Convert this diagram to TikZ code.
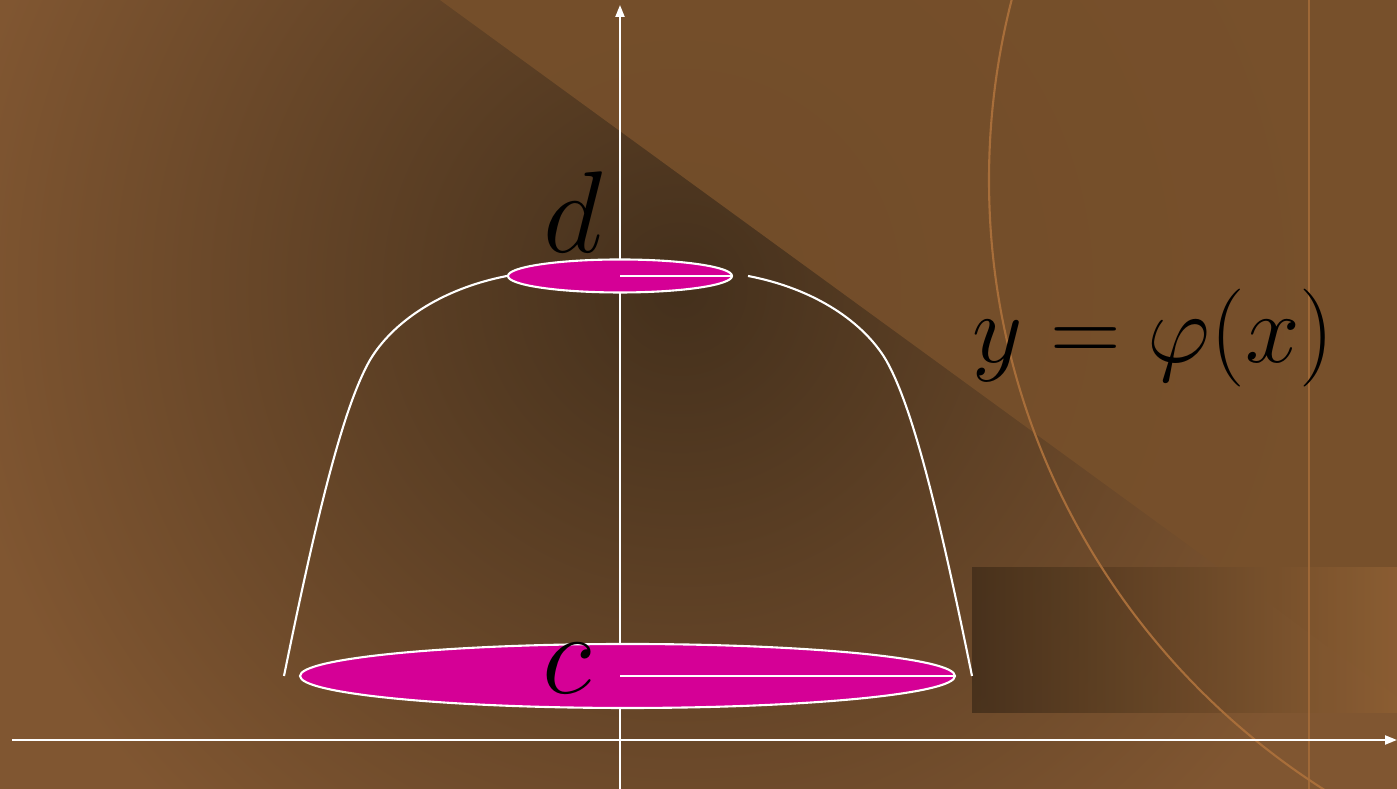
\documentclass[tikz,border=0pt]{standalone}
\usetikzlibrary{arrows.meta, shapes.geometric}

\definecolor{bgdark}{HTML}{44301C}
\definecolor{bglight}{HTML}{805631}
\definecolor{bgwedge}{HTML}{77502B}
\definecolor{arcbrown}{HTML}{A86E3A}
\definecolor{discpink}{HTML}{D50096}
\definecolor{boxdark}{HTML}{46301B}
\definecolor{boxmid}{HTML}{664527}
\definecolor{boxlight}{HTML}{8C5E33}

\begin{document}
\begin{tikzpicture}[
    disc/.style={ellipse, draw=white, line width=0.6pt, fill=discpink, inner sep=0pt},
    curve/.style={white, line width=0.6pt},
    axis/.style={white, line width=0.6pt, -{Triangle[length=1.2mm, width=0.9mm]}},
    lab/.style={font=\Huge, scale=1.33, inner sep=0pt, anchor=base}
]
    \useasboundingbox (0,0) rectangle (13.97,7.89);

    % Background
    \begin{scope}
        \clip (0,0) rectangle (13.97,7.89);
        \fill[bglight] (0,0) rectangle (13.97,7.89);
        \shade[inner color=bgdark, outer color=bglight] (6.8,5.0) circle (7.3);
        \fill[bgwedge, opacity=0.9] (4.40,7.89) -- (13.97,7.89) -- (13.97,0.92) -- cycle;
        \shade[left color=boxdark, middle color=boxmid, right color=boxlight, opacity=0.92]
            (9.72,0.76) rectangle (13.97,2.21);
        \draw[arcbrown, line width=0.6pt] (17.11,6.09) circle (7.22);
        \draw[arcbrown, opacity=0.8, line width=0.6pt] (13.09,0) -- (13.09,7.89);
    \end{scope}

    % Axes
    \coordinate (ybot) at (6.20,0);
    \coordinate (ytop) at (6.20,7.84);
    \coordinate (xleft) at (0.12,0.49);
    \coordinate (xright) at (13.97,0.49);
    \draw[axis] (ybot) -- (ytop);
    \draw[axis] (xleft) -- (xright);

    % Discs
    \node[disc, minimum width=2.24cm, minimum height=0.33cm] (top) at (6.20,5.13) {};
    \node[disc, minimum width=6.55cm, minimum height=0.64cm] (bottom) at (6.275,1.13) {};
    \coordinate (bcenter) at (6.20,1.13);
    \draw[curve] (top.center) -- (top.east);
    \draw[curve] (bcenter) -- (bottom.east);

    % Side curves
    \coordinate (lfoot) at (2.84,1.13);
    \coordinate (rfoot) at (9.72,1.13);
    \coordinate (rtop) at (7.48,5.13);
    \draw[curve] (lfoot) .. controls (3.20,2.90) and (3.45,3.85) .. (3.70,4.29)
        .. controls (3.92,4.66) and (4.40,5.00) .. (top.west);
    \draw[curve] (rfoot) .. controls (9.36,2.90) and (9.11,3.85) .. (8.86,4.29)
        .. controls (8.64,4.66) and (8.16,5.00) .. (rtop);

    % Labels
    \node[lab] (dlab) at (5.73,5.36) {$d$};
    \node[lab] (clab) at (5.67,0.95) {$c$};
    \node[font=\Huge, scale=1.12, inner sep=0pt, anchor=base west] (eq) at (9.72,4.26)
        {$y=\varphi(x)$};
\end{tikzpicture}
\end{document}
